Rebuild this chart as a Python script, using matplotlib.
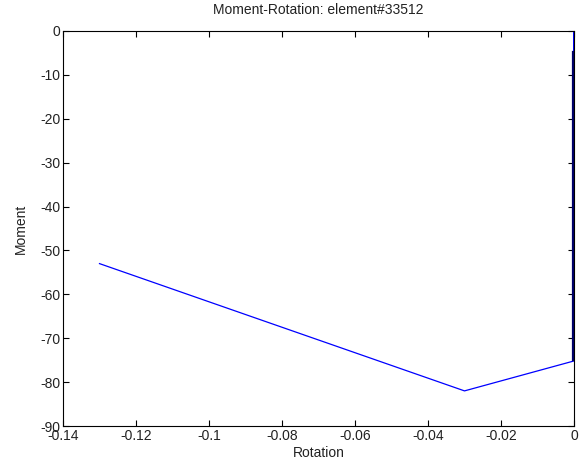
import matplotlib
matplotlib.use("Agg")
import matplotlib.pyplot as plt

# Main moment-rotation path
rotation = [-0.13, -0.03, -0.0001, -0.0001]
moment = [-53.0, -82.0, -75.2, 0.0]

# Repeated cycles near zero rotation (overlapping, appear darker)
rotation_cycles = [-0.0003, -0.0003]
moment_cycles = [-4.8, -75.0]

xticks = [-0.14, -0.12, -0.1, -0.08, -0.06, -0.04, -0.02, 0]
xticklabels = ["-0.14", "-0.12", "-0.1", "-0.08", "-0.06", "-0.04", "-0.02", "0"]
yticks = [0, -10, -20, -30, -40, -50, -60, -70, -80, -90]

plt.rcParams['font.family'] = ['Liberation Sans', 'DejaVu Sans']
plt.rcParams['axes.unicode_minus'] = False

fig = plt.figure(figsize=(5.79, 4.71), dpi=100)
ax = fig.add_axes([63/579, 1-426/471, (574-63)/579, (426-31)/471])

ax.plot(rotation, moment, color='#0000ff', linewidth=0.9)
ax.plot(rotation_cycles, moment_cycles, color='#00006a', linewidth=1.6)

ax.set_xlim(-0.14, 0)
ax.set_ylim(-90, 0)
ax.set_xticks(xticks)
ax.set_xticklabels(xticklabels)
ax.set_yticks(yticks)
ax.tick_params(direction='in', length=4, width=0.8, top=True, right=True,
               labelsize=10, colors='black', labelcolor='#222222', pad=2)
for s in ax.spines.values():
    s.set_linewidth(0.8)

ax.set_xlabel('Rotation', fontsize=10, labelpad=2, color='#222222')
ax.set_ylabel('Moment', fontsize=10, labelpad=9, color='#222222')
ax.set_title('Moment-Rotation: element#33512', fontsize=10, pad=12, color='#222222')

fig.savefig('out.png', dpi=100)
